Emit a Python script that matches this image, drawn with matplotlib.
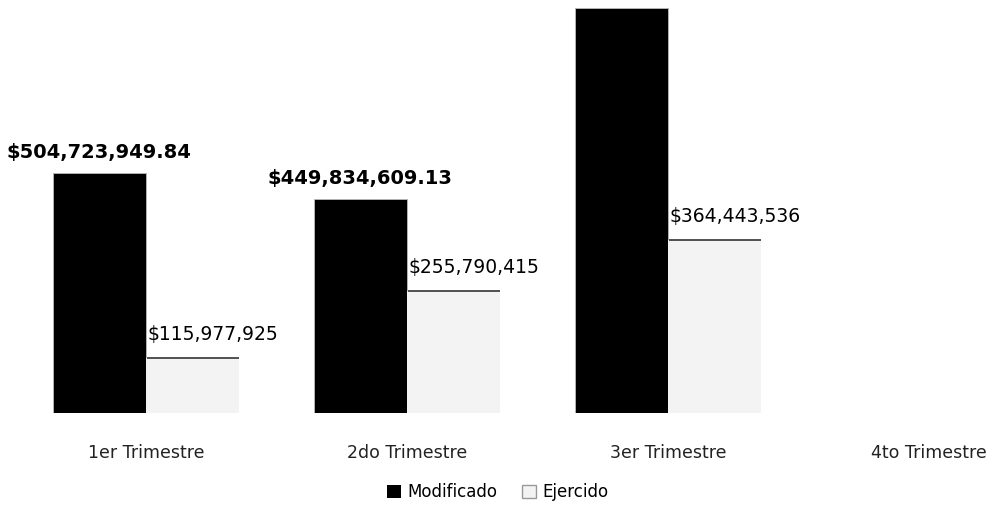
import numpy as np
import matplotlib
matplotlib.use("Agg")
from matplotlib import pyplot as plt
from matplotlib.patches import Patch

# Data
trimestres = ["1er Trimestre", "2do Trimestre", "3er Trimestre", "4to Trimestre"]
modificado = [504723949.84, 449834609.13, 851000000.0, 0.0]
ejercido = [115977925.0, 255790415.0, 364443536.0, 0.0]
etiquetas_mod = ["$504,723,949.84", "$449,834,609.13", "", ""]
etiquetas_eje = ["$115,977,925", "$255,790,415", "$364,443,536", ""]

fig = plt.figure(figsize=(9.96, 5.14), dpi=100)
ax = fig.add_axes([0, 101 / 514, 1, 413 / 514])

x = np.arange(len(trimestres))
w = 0.357

ax.bar(x - w / 2, modificado, w, color="black", edgecolor="#bbbbbb", linewidth=0.6)
ax.bar(x + w / 2, ejercido, w, color="#f3f3f3", edgecolor="none")
# dark line on top of the Ejercido bars
for i in range(3):
    ax.hlines(ejercido[i], x[i] + 0.005, x[i] + w, color="#333333", linewidth=1.2)

for i in range(len(trimestres)):
    if etiquetas_mod[i]:
        ax.annotate(etiquetas_mod[i], (x[i] - w / 2, modificado[i]), xytext=(0, 8),
                    textcoords="offset points", ha="center", va="bottom",
                    fontsize=14, fontweight="bold")
    if etiquetas_eje[i]:
        ax.annotate(etiquetas_eje[i], (x[i] + 0.005, ejercido[i]), xytext=(0, 10),
                    textcoords="offset points", ha="left", va="bottom",
                    fontsize=13.5)

ax.set_xlim(-146 / 261, (996 - 146) / 261)
ax.set_ylim(0, 868.6e6)
ax.axis("off")

for i, t in enumerate(trimestres):
    ax.annotate(t, (x[i], 0), xytext=(0, -29), textcoords="offset points",
                ha="center", va="center", fontsize=12.5, color="#222222",
                annotation_clip=False)

handles = [Patch(facecolor="black", label="Modificado"),
           Patch(facecolor="#f3f3f3", edgecolor="#999999", label="Ejercido")]
fig.legend(handles=handles, loc="center", bbox_to_anchor=(0.5, 22 / 514), ncol=2,
           frameon=False, fontsize=12, handlelength=0.8, handleheight=0.8,
           columnspacing=1.5, handletextpad=0.4)

fig.savefig("out.png", dpi=100)
